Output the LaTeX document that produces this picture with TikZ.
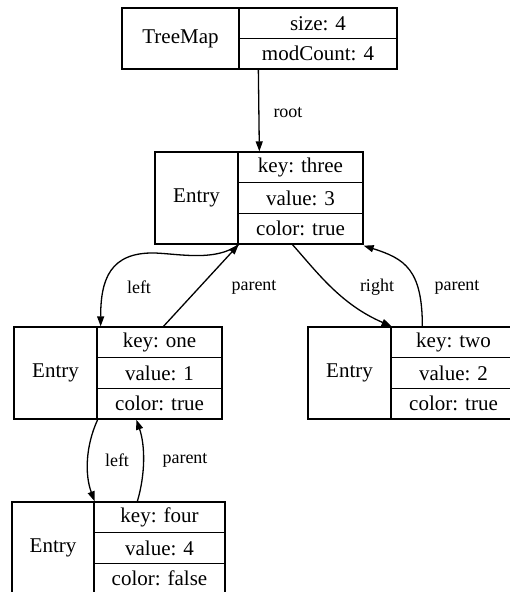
\documentclass[tikz,border=0pt]{standalone}
\usepackage{fontspec}
\setmainfont{Liberation Serif}
\usetikzlibrary{arrows.meta}
\tikzset{
  cell/.style={draw, line width=1.3pt, inner sep=0pt, minimum width=83pt,
    minimum height=92pt, font=\fontsize{21}{25}\selectfont},
  field/.style={cell, minimum width=125pt, minimum height=30.67pt},
  link/.style={line width=1.3pt, -{Triangle[length=10pt,width=7pt]}},
  lbl/.style={inner sep=0pt, font=\fontsize{18}{21}\selectfont}
}
\begin{document}
\begin{tikzpicture}[x=1pt,y=-1pt]
\clip (0,0) rectangle (510,592);
% the map itself
\node[cell, minimum width=117pt, minimum height=61pt] (treemap) at (180.5,38.5) {TreeMap};
\node[field, minimum width=158pt, minimum height=30.5pt] (treemap size) at (318,23.25) {size: 4};
\node[field, minimum width=158pt, minimum height=30.5pt] (treemap count) at (318,53.75) {modCount: 4};
% root entry
\node[cell] (three) at (196.5,198) {Entry};
\node[field] (three key) at (300.5,167.33) {key: three};
\node[field] (three value) at (300.5,198) {value: 3};
\node[field] (three color) at (300.5,228.67) {color: true};
% left child
\node[cell] (one) at (55.5,373) {Entry};
\node[field] (one key) at (159.5,342.33) {key: one};
\node[field] (one value) at (159.5,373) {value: 1};
\node[field] (one color) at (159.5,403.67) {color: true};
% right child
\node[cell] (two) at (349.5,373) {Entry};
\node[field] (two key) at (453.5,342.33) {key: two};
\node[field] (two value) at (453.5,373) {value: 2};
\node[field] (two color) at (453.5,403.67) {color: true};
% grandchild
\node[cell, minimum width=82pt] (four) at (53,548) {Entry};
\node[field, minimum width=131pt] (four key) at (159.5,517.33) {key: four};
\node[field, minimum width=131pt] (four value) at (159.5,548) {value: 4};
\node[field, minimum width=131pt] (four color) at (159.5,578.67) {color: false};
% links
\draw[link] ([xshift=20pt]treemap count.south west) -- ([xshift=22pt]three key.north west);
\draw[link] (three.south east) .. controls +(-23,17) and +(25,1) .. (155,253)
  .. controls +(-45,-1) and +(0,-47) .. ([xshift=3pt]one.north east);
\draw[link] ([xshift=4pt]one key.north) -- (three.south east);
\draw[link] ([xshift=-8pt]three color.south) .. controls +(25,28) and +(-51,-22) .. (two.north east);
\draw[link] ([xshift=32pt]two key.north west) .. controls +(0,-57) and +(41,13) .. ([yshift=-1pt]three color.south east);
\draw[link] (one.south east) .. controls +(-12,26) and +(-10,-27) .. (four.north east);
\draw[link] ([xshift=44pt]four key.north west) .. controls +(8,-27) and +(9,26) .. ([xshift=40pt]one color.south west);
% labels
\node[lbl] (lbl root) at (288,113) {root};
\node[lbl] (lbl left) at (139,287) {left};
\node[lbl] (lbl parent) at (254,287) {parent};
\node[lbl] (lbl right) at (377,287) {right};
\node[lbl] (lbl up) at (457,287) {parent};
\node[lbl] (lbl four left) at (117,460) {left};
\node[lbl] (lbl four parent) at (185,460) {parent};
\end{tikzpicture}
\end{document}
